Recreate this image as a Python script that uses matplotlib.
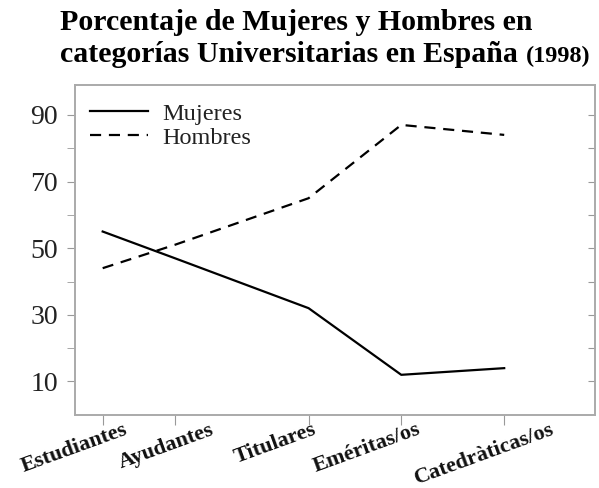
import matplotlib
matplotlib.use("Agg")
import matplotlib.pyplot as plt
import matplotlib.transforms as mtransforms
from matplotlib.ticker import FixedLocator

plt.rcParams["font.family"] = ["Liberation Serif", "DejaVu Serif"]

categorias = ["Estudiantes", "Ayudantes", "Titulares", "Eméritas/os", "Catedràticas/os"]
posiciones = [1.0, 1.7, 3.0, 3.9, 4.9]   # las categorías no están equiespaciadas
mujeres = [55, 47, 32, 12, 14]
hombres = [44, 51, 65, 87, 84]
yticks_lab = [10, 30, 50, 70, 90]
yticks_min = [20, 40, 60, 80]

fig = plt.figure(figsize=(5.99, 4.88), dpi=100)
ax = fig.add_axes([0.125, 0.150, 0.868, 0.676])

ax.plot(posiciones, mujeres, color="black", lw=1.6, label="Mujeres")
ax.plot(posiciones, hombres, color="black", lw=1.6, linestyle=(0, (5, 3.5)), label="Hombres")

ax.set_xlim(0.73, 5.78)
ax.set_ylim(0, 99)

ax.set_xticks(posiciones)
ax.set_xticklabels([])
# etiquetas del eje x giradas; en el original no quedan centradas bajo su tick
corrimiento = [-0.28, -0.08, -0.33, -0.34, -0.20]   # pulgadas
base = mtransforms.blended_transform_factory(ax.transData, ax.transAxes)
for x, lab, dx in zip(posiciones, categorias, corrimiento):
    trans = base + mtransforms.ScaledTranslation(dx, -0.05, fig.dpi_scale_trans)
    ax.text(x, 0, lab, transform=trans, rotation=20, ha="center", va="top",
            fontsize=16, fontweight="bold", color="#111111")

ax.yaxis.set_major_locator(FixedLocator(yticks_lab))
ax.yaxis.set_minor_locator(FixedLocator(yticks_min))
ax.tick_params(axis="y", which="both", direction="out", length=6, color="#999999", labelsize=20, labelcolor="#222222", pad=6)
ax.tick_params(axis="x", direction="out", length=7, color="#999999")

# ticks interiores en el lado derecho
ax2 = ax.twinx()
ax2.set_ylim(ax.get_ylim())
ax2.set_yticks(yticks_lab + yticks_min)
ax2.tick_params(direction="in", length=5, color="#999999", labelright=False)

for a in (ax, ax2):
    for s in a.spines.values():
        s.set_color("#aaaaaa")
        s.set_linewidth(1.2)

leg = ax.legend(loc="upper left", bbox_to_anchor=(0.01, 0.975), frameon=False, fontsize=17.5,
                handlelength=2.4, handletextpad=0.6, labelspacing=0.08, borderaxespad=0.0)
for t in leg.get_texts():
    t.set_color("#222222")

fig.text(0.101, 0.939, "Porcentaje de Mujeres y Hombres en", fontsize=21.5, fontweight="bold", ha="left", va="baseline")
t2 = fig.text(0.101, 0.873, "categorías Universitarias en España ", fontsize=21.5, fontweight="bold", ha="left", va="baseline")
fig.canvas.draw()
bb = t2.get_window_extent()
fig.text(bb.x1 / fig.bbox.width, 0.873, "(1998)", fontsize=17.5, fontweight="bold", ha="left", va="baseline")

fig.savefig("out.png", dpi=100)
